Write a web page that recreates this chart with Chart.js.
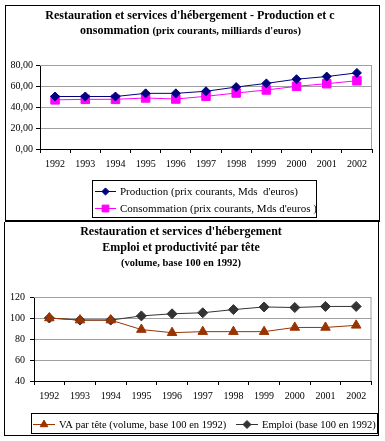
<!DOCTYPE html>
<html>
<head>
<meta charset="utf-8">
<script src="https://cdn.jsdelivr.net/npm/chart.js@4/dist/chart.umd.min.js"></script>
<style>
  body { margin: 0; background: #fff; width: 385px; height: 441px; position: relative; overflow: hidden;
         font-family: 'Liberation Serif', 'Times New Roman', serif; }
  .panel { position: absolute; box-sizing: border-box; border: 1px solid #000; }
  #top { left: 5px; top: 5px; width: 375px; height: 217px; border-bottom-width: 2px; }
  #bottom { left: 4px; top: 222px; width: 375px; height: 214px; border-top: none; }
  canvas { position: absolute; }
  .t { position: absolute; left: 0; text-align: center; font-weight: bold; line-height: 16px; white-space: nowrap; color: #000; }
</style>
</head>
<body>
<div class="panel" id="top"></div>
<div class="panel" id="bottom"></div>
<canvas id="chartTop" width="373" height="214" style="left:6px;top:6px"></canvas>
<canvas id="chartBottom" width="373" height="213" style="left:5px;top:222px"></canvas>

<div class="t" style="width:380px;top:7px;font-size:12px">Restauration et services d'hébergement - Production et c</div>
<div class="t" style="width:381px;top:22px;font-size:12px">onsommation <span style="font-size:10.5px">(prix courants, milliards d'euros)</span></div>

<div class="t" style="width:362px;top:223px;font-size:12px">Restauration et services d'hébergement</div>
<div class="t" style="width:362px;top:239px;font-size:12px">Emploi et productivité par tête</div>
<div class="t" style="width:362px;top:255px;font-size:10.5px">(volume, base 100 en 1992)</div>

<script>
const years = ['1992','1993','1994','1995','1996','1997','1998','1999','2000','2001','2002'];

// top chart : prix courants, milliards d'euros
const production = [50, 50, 50, 53, 53, 55, 59, 62.5, 66.5, 69, 72.5];
const consommation = [46.8, 47.3, 47.3, 48.6, 47.6, 50.2, 53.3, 56.2, 59.7, 62.2, 65];

// bottom chart : base 100 en 1992
const vaParTete = [100, 98, 98, 89, 86, 87, 87, 87, 91, 91, 93];
const emploi = [100, 98, 98, 102, 104, 105, 108, 110.5, 110, 111, 111];

const serif = "'Liberation Serif', 'Times New Roman', serif";

// gray frame of the plot area
const plotFrame = {
  id: 'plotFrame',
  beforeDatasetsDraw(chart) {
    const a = chart.chartArea, ctx = chart.ctx;
    ctx.save();
    ctx.strokeStyle = '#a0a0a0';
    ctx.lineWidth = 1;
    ctx.beginPath();
    ctx.moveTo(a.left, a.top + 0.5);
    ctx.lineTo(a.right - 0.5, a.top + 0.5);
    ctx.lineTo(a.right - 0.5, a.bottom);
    ctx.stroke();
    ctx.restore();
  }
};

// excel-like legend with a box round it
const boxLegend = {
  id: 'boxLegend',
  afterDraw(chart, args, opts) {
    const ctx = chart.ctx;
    ctx.save();
    ctx.strokeStyle = '#000';
    ctx.lineWidth = 1;
    ctx.strokeRect(opts.box[0] + 0.5, opts.box[1] + 0.5, opts.box[2], opts.box[3]);
    ctx.font = opts.fontSize + 'px ' + serif;
    ctx.textBaseline = 'middle';
    chart.data.datasets.forEach((ds, i) => {
      const it = opts.items[i];
      ctx.strokeStyle = ds.borderColor;
      ctx.lineWidth = 1;
      ctx.beginPath();
      ctx.moveTo(it[0], it[1] + 0.5);
      ctx.lineTo(it[0] + opts.lineLen, it[1] + 0.5);
      ctx.stroke();
      ctx.fillStyle = ds.pointBackgroundColor;
      ctx.strokeStyle = ds.pointBorderColor;
      Chart.helpers.drawPoint(ctx, { pointStyle: ds.pointStyle, radius: ds.pointRadius * 0.8, borderWidth: 1, rotation: 0 },
        it[0] + opts.lineLen / 2, it[1] + 0.5);
      ctx.fillStyle = '#000';
      ctx.fillText(ds.label, it[0] + opts.lineLen + 4, it[1] + 1);
    });
    ctx.restore();
  }
};

function makeChart(id, datasets, area, yOpts, legendOpts) {
  const canvas = document.getElementById(id);
  const W = canvas.width, H = canvas.height;
  const xH = 30;
  return new Chart(canvas, {
    type: 'line',
    data: { labels: years, datasets: datasets },
    options: {
      responsive: false,
      animation: false,
      layout: { padding: { left: 0, top: area.top, right: W - area.right, bottom: H - area.bottom - xH } },
      plugins: { legend: { display: false }, tooltip: { enabled: false }, boxLegend: legendOpts },
      scales: {
        x: {
          offset: true,
          grid: { offset: true, drawOnChartArea: false, tickColor: '#000', tickLength: 4 },
          border: { color: '#000' },
          ticks: { color: '#000', font: { family: serif, size: 10 }, padding: 5, maxRotation: 0, autoSkip: false },
          afterFit(s) { s.height = xH; }
        },
        y: Object.assign({
          grid: { color: '#a0a0a0', tickColor: '#000', tickLength: 4 },
          border: { color: '#000' },
          afterFit(s) { s.width = area.left; }
        }, yOpts)
      }
    },
    plugins: [plotFrame, boxLegend]
  });
}

makeChart('chartTop', [
  { label: "Production (prix courants, Mds  d'euros)", data: production, borderColor: '#000080', borderWidth: 1,
    pointStyle: 'rectRot', pointRadius: 4.5, pointBackgroundColor: '#000080', pointBorderColor: '#000080' },
  { label: "Consommation (prix courants, Mds d'euros )", data: consommation, borderColor: '#ff00ff', borderWidth: 1,
    pointStyle: 'rect', pointRadius: 6, pointBackgroundColor: '#ff00ff', pointBorderColor: '#ff00ff' }
], { left: 34, right: 366, top: 59, bottom: 143 }, {
  min: 0, max: 80,
  ticks: { stepSize: 20, color: '#000', font: { family: serif, size: 10 }, padding: 3,
           callback: v => v.toFixed(2).replace('.', ',') }
}, { box: [86, 174, 224, 37], items: [[89, 185], [89, 202]], lineLen: 21, fontSize: 11 });

makeChart('chartBottom', [
  { label: 'VA par tête (volume, base 100 en 1992)', data: vaParTete, borderColor: '#993300', borderWidth: 1,
    pointStyle: 'triangle', pointRadius: 5.5, pointBackgroundColor: '#993300', pointBorderColor: '#993300' },
  { label: 'Emploi (base 100 en 1992)', data: emploi, borderColor: '#333333', borderWidth: 1,
    pointStyle: 'rectRot', pointRadius: 5, pointBackgroundColor: '#333333', pointBorderColor: '#333333' }
], { left: 29, right: 367, top: 75, bottom: 159 }, {
  min: 40, max: 120,
  ticks: { stepSize: 20, color: '#000', font: { family: serif, size: 10 }, padding: 5 }
}, { box: [26, 191, 346, 20], items: [[28, 202], [231, 202]], lineLen: 22, fontSize: 10.5 });
</script>
</body>
</html>
